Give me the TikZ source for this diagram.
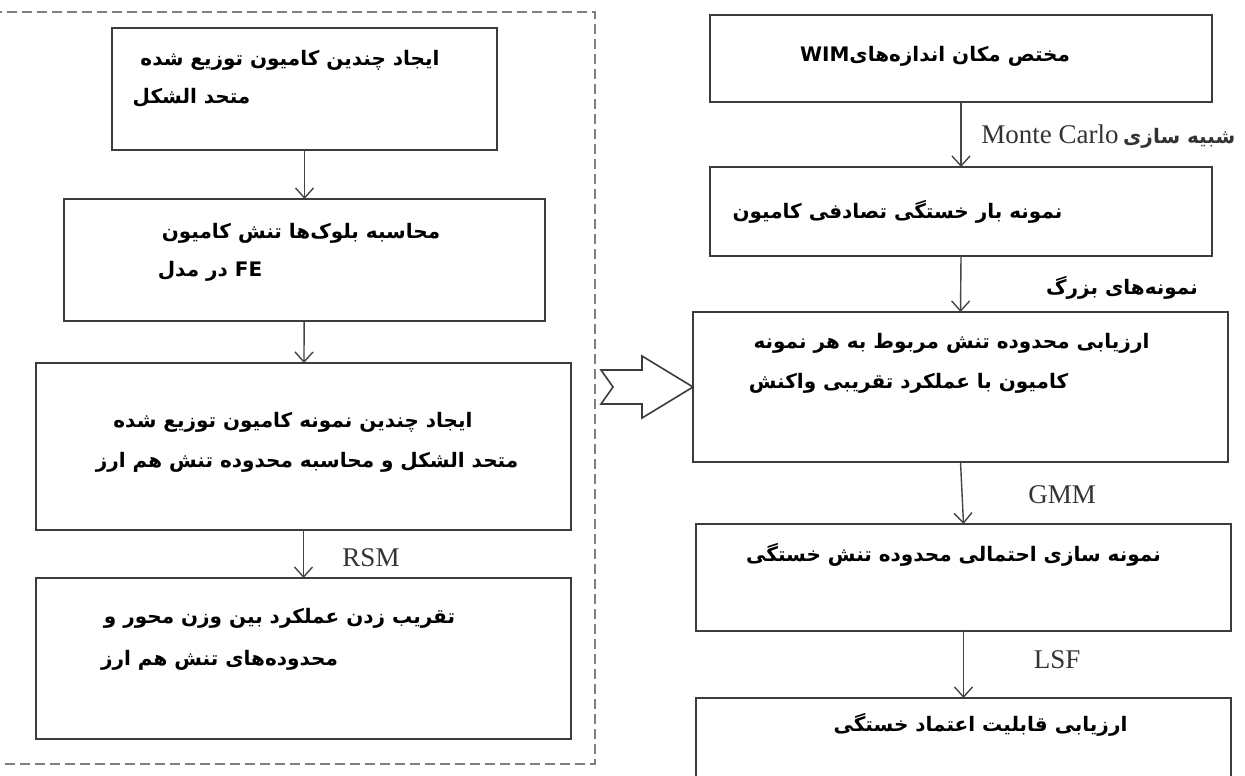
\documentclass[tikz,border=0pt]{standalone}
\usepackage{fontspec}
\usetikzlibrary{arrows.meta}
\TeXXeTstate=1
\newfontfamily\fafont[Script=Arabic]{DejaVu Sans}
\newfontfamily\lafont{Liberation Serif}
\definecolor{boxgray}{HTML}{3C3C3C}
\definecolor{linegray}{HTML}{454545}
\definecolor{labelgray}{HTML}{333333}
\definecolor{framegray}{HTML}{808080}
\begin{document}
\begin{tikzpicture}[x=0.5pt,y=-0.5pt]
    \tikzset{box/.style n args={2}{draw=boxgray, line width=1pt, inner sep=0pt, outer sep=0pt,
            minimum width=#1*0.5pt, minimum height=#2*0.5pt},
        fatext/.style={font=\fafont\bfseries\fontsize{10}{12}\selectfont, inner sep=0pt},
        lbl/.style={font=\lafont\fontsize{13.5}{16}\selectfont, text=labelgray, inner sep=0pt},
        flow/.style={draw=linegray, line width=0.7pt, -{Straight Barb[length=5pt,width=9pt]}},
        groupframe/.style={draw=framegray, line width=0.6pt, dash pattern=on 5pt off 2.5pt}}
    \useasboundingbox (0,0) rectangle (1245,775);

    %Rahmen
    \draw[groupframe] (-8,12) rectangle (595,764);

    %linke Spalte
    \node[box={385}{122}] (mk1) at (304.5,89)  {};
    \node[box={481}{122}] (mk2) at (304.5,260) {};
    \node[box={535}{167}] (mk3) at (303.5,446.5) {};
    \node[box={535}{161}] (mk4) at (303.5,658.5) {};

    \node[fatext] (mk1a) at (290,60)   {\beginR ایجاد چندین کامیون توزیع شده\endR};
    \node[fatext] (mk1b) at (191.5,98) {\beginR متحد الشکل\endR};
    \node[fatext] (mk2a) at (301,233)  {\beginR محاسبه بلوک‌ها تنش کامیون\endR};
    \node[fatext] (mk2b) at (210,271)  {\beginR\beginL FE\endL{} در مدل\endR};
    \node[fatext] (mk3a) at (293,422)  {\beginR ایجاد چندین نمونه کامیون توزیع شده\endR};
    \node[fatext] (mk3b) at (307,462)  {\beginR متحد الشکل و محاسبه محدوده تنش هم ارز\endR};
    \node[fatext] (mk4a) at (279.5,618) {\beginR تقریب زدن عملکرد بین وزن محور و\endR};
    \node[fatext] (mk4b) at (219.5,660) {\beginR محدوده‌های تنش هم ارز\endR};

    \draw[flow] (mk1) -- (mk2);
    \draw[flow] (mk2) -- (mk3);
    \draw[flow] (mk3) -- (mk4);
    \node[lbl] (rsm) at (371,558) {RSM};

    %rechte Spalte
    \node[box={502}{87}]  (rel1) at (961,58.5)  {};
    \node[box={502}{89}]  (rel2) at (961,211.5) {};
    \node[box={535}{150}] (rel3) at (960.5,387) {};
    \node[box={535}{107}] (rel4) at (963.5,577.5) {};
    \node[box={535}{110}] (rel5) at (963.5,753) {};

    \node[fatext] (rel1a) at (935,56)    {\beginR مختص مکان اندازه‌های\beginL WIM\endL\endR};
    \node[fatext] (rel2a) at (897.5,212) {\beginR نمونه بار خستگی تصادفی کامیون\endR};
    \node[fatext] (rel3a) at (951.5,343) {\beginR ارزیابی محدوده تنش مربوط به هر نمونه\endR};
    \node[fatext] (rel3b) at (908.5,383) {\beginR کامیون با عملکرد تقریبی واکنش\endR};
    \node[fatext] (rel4a) at (953.5,555) {\beginR نمونه سازی احتمالی محدوده تنش خستگی\endR};
    \node[fatext] (rel5a) at (980.5,725) {\beginR ارزیابی قابلیت اعتماد خستگی\endR};

    \draw[flow] (rel1.south) -- (rel2.north);
    \draw[flow] (rel2.south) -- (rel3.north);
    \draw[flow] (rel3.south) -- (rel4.north);
    \draw[flow] (rel4.south) -- (rel5.north);
    \node[lbl, anchor=west] (mc) at (981,137)
        {Monte Carlo\,{\fafont\bfseries\fontsize{10}{12}\selectfont\beginR شبیه سازی\endR}};
    \node[fatext] (big) at (1122,288) {\beginR نمونه‌های بزرگ\endR};
    \node[lbl] (gmm) at (1062,495) {GMM};
    \node[lbl] (lsf) at (1057,660) {LSF};

    %Blockpfeil
    \draw[boxgray, line width=0.8pt, line join=miter] (rel3.west) -- ++(-51,31) -- ++(0,-14) -- ++(-41,0)
        -- ++(12,-17) -- ++(-12,-17) -- ++(41,0) -- ++(0,-14) -- cycle;

\end{tikzpicture}
\end{document}
